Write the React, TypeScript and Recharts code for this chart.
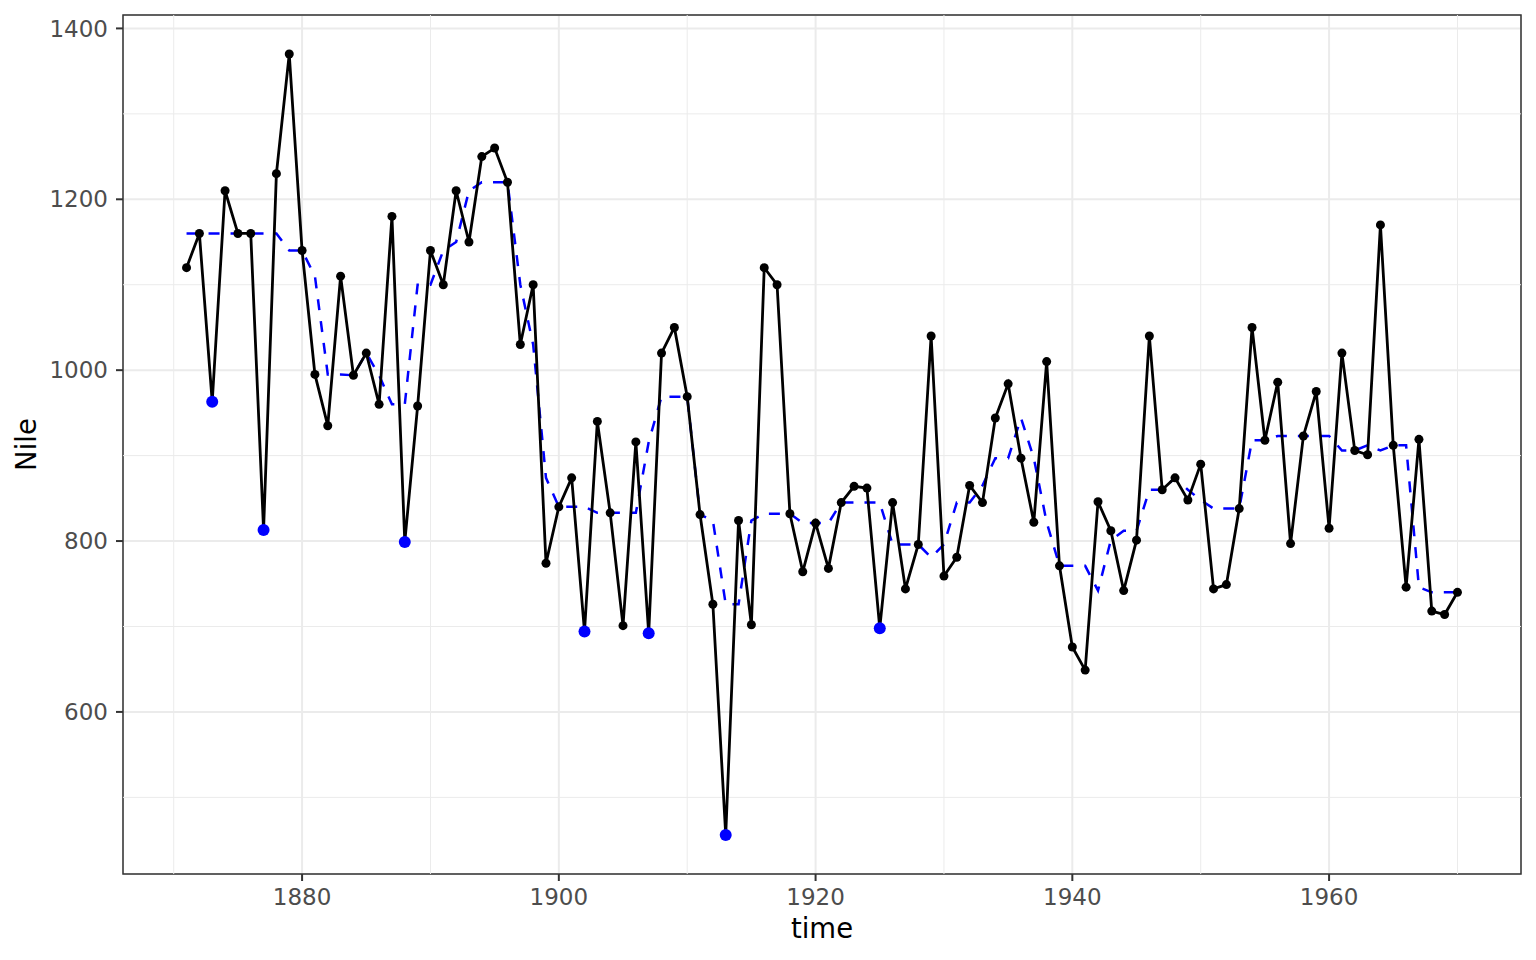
import React from "react";
import { ComposedChart, CartesianGrid, Label, Line, ReferenceArea, ReferenceLine, XAxis, YAxis } from "recharts";

// annual Nile flow, 1871-1970
const years = Array.from({ length: 100 }, (_, i) => 1871 + i);

const nile = [
  1120, 1160, 963, 1210, 1160, 1160, 813, 1230, 1370, 1140,
  995, 935, 1110, 994, 1020, 960, 1180, 799, 958, 1140,
  1100, 1210, 1150, 1250, 1260, 1220, 1030, 1100, 774, 840,
  874, 694, 940, 833, 701, 916, 692, 1020, 1050, 969,
  831, 726, 456, 824, 702, 1120, 1100, 832, 764, 821,
  768, 845, 864, 862, 698, 845, 744, 796, 1040, 759,
  781, 865, 845, 944, 984, 897, 822, 1010, 771, 676,
  649, 846, 812, 742, 801, 1040, 860, 874, 848, 890,
  744, 749, 838, 1050, 918, 986, 797, 923, 975, 815,
  1020, 906, 901, 1170, 912, 746, 919, 718, 714, 740,
];

// running median (dashed blue)
const smooth = [
  1160, 1160, 1160, 1160, 1160, 1160, 1160, 1160, 1140, 1140,
  1110, 995, 995, 994, 1020, 994, 960, 960, 1100, 1100,
  1140, 1150, 1210, 1220, 1220, 1220, 1100, 1030, 874, 840,
  840, 840, 833, 833, 833, 833, 916, 969, 969, 969,
  831, 824, 726, 726, 824, 832, 832, 832, 821, 821,
  821, 845, 845, 845, 845, 796, 796, 796, 781, 796,
  845, 845, 865, 897, 897, 944, 897, 822, 771, 771,
  771, 742, 801, 812, 812, 860, 860, 874, 860, 848,
  838, 838, 838, 918, 918, 923, 923, 923, 923, 923,
  906, 906, 912, 906, 912, 912, 746, 740, 740, 740,
];

const flaggedYears = [1873, 1877, 1888, 1902, 1907, 1913, 1925];

const xTicks = [1880, 1900, 1920, 1940, 1960];
const xMinor = [1870, 1890, 1910, 1930, 1950, 1970];
const yTicks = [600, 800, 1000, 1200, 1400];
const yMinor = [500, 700, 900, 1100, 1300];

const xDomain = [1866.05, 1974.95];
const yDomain = [410.3, 1415.7];

const rows = years.map((year, i) => ({
  year,
  nile: nile[i],
  smooth: smooth[i],
  flag: flaggedYears.includes(year) ? nile[i] : null,
}));

const tickStyle = { fill: "#4D4D4D", fontSize: 23 };

function YTitle(props: any) {
  const vb = props.viewBox;
  const x = vb.x + 26;
  const y = vb.y + vb.height / 2;
  return (
    <text x={x} y={y} transform={`rotate(-90 ${x} ${y})`} textAnchor="middle" dominantBaseline="central" fontSize={27.5} fill="#000">
      Nile
    </text>
  );
}

export default function App() {
  return (
    <div style={{ position: "absolute", left: 0, top: 0, width: 1536, height: 960, background: "#fff", fontFamily: "'DejaVu Sans', sans-serif" }}>
      <ComposedChart width={1536} height={960} data={rows} margin={{ top: 15, right: 15, bottom: 0, left: 0 }}>
        <CartesianGrid stroke="#EBEBEB" strokeWidth={2} />
        {xMinor.map((v) => (
          <ReferenceLine key={"x" + v} x={v} stroke="#EBEBEB" strokeWidth={1} />
        ))}
        {yMinor.map((v) => (
          <ReferenceLine key={"y" + v} y={v} stroke="#EBEBEB" strokeWidth={1} />
        ))}
        <XAxis
          type="number"
          dataKey="year"
          domain={xDomain}
          allowDataOverflow
          ticks={xTicks}
          height={86}
          tick={tickStyle}
          tickSize={7}
          tickMargin={8}
          tickLine={{ stroke: "#333", strokeWidth: 2 }}
          axisLine={false}
        >
          <Label value="time" position="insideBottom" offset={22} fontSize={27.5} fill="#000" />
        </XAxis>
        <YAxis
          type="number"
          domain={yDomain}
          allowDataOverflow
          ticks={yTicks}
          width={123}
          tick={tickStyle}
          tickSize={7}
          tickMargin={8}
          tickLine={{ stroke: "#333", strokeWidth: 2 }}
          axisLine={false}
        >
          <Label content={YTitle} />
        </YAxis>
        <Line
          type="linear"
          dataKey="smooth"
          stroke="#0000FF"
          strokeWidth={2.5}
          strokeDasharray="11 11"
          dot={false}
          activeDot={false}
          isAnimationActive={false}
        />
        <Line
          type="linear"
          dataKey="nile"
          stroke="#000"
          strokeWidth={2.8}
          dot={{ r: 4.5, fill: "#000", stroke: "none" }}
          activeDot={false}
          isAnimationActive={false}
        />
        <Line
          type="linear"
          dataKey="flag"
          stroke="none"
          dot={{ r: 6, fill: "#0000FF", stroke: "none" }}
          activeDot={false}
          isAnimationActive={false}
        />
        <ReferenceArea x1={xDomain[0]} x2={xDomain[1]} y1={yDomain[0]} y2={yDomain[1]} fill="none" stroke="#333" strokeWidth={1.5} />
      </ComposedChart>
    </div>
  );
}
